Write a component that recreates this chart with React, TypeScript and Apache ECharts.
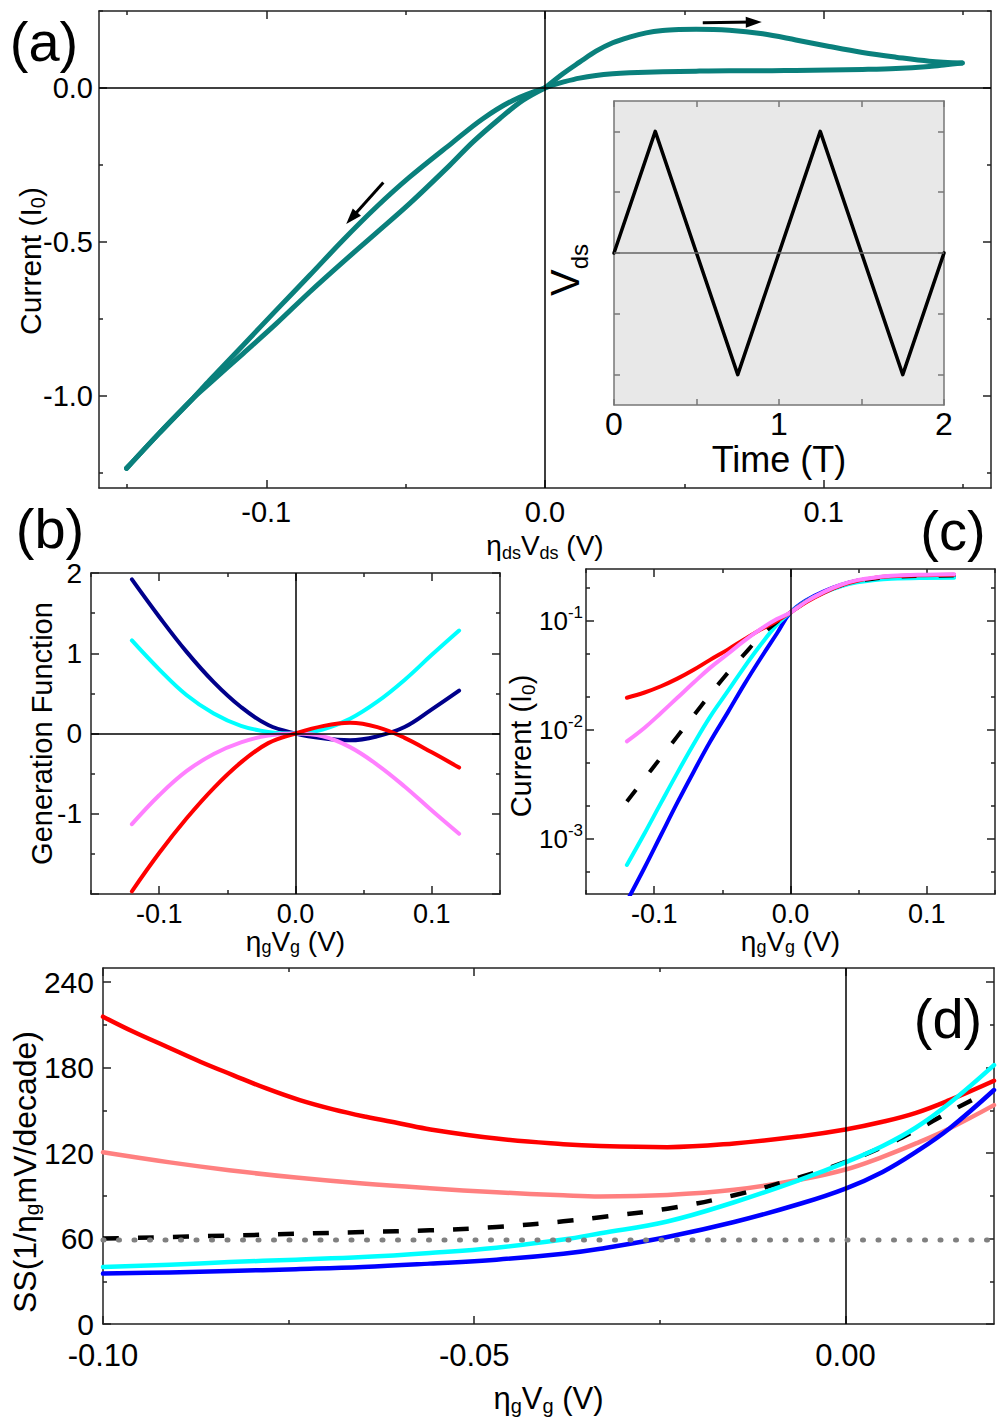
import React, { useEffect, useRef } from 'react';
import * as echarts from 'echarts';

const FONT = '"Liberation Sans", Arial, Helvetica, sans-serif';

// ---------- (a) hysteresis loop, four sweep branches: eta_ds*V_ds (V) vs current (I0) ----------
const fwdPosV = [0, 0.0064, 0.0124, 0.0183, 0.0243, 0.0303, 0.0363, 0.0422, 0.0482, 0.0542, 0.0661, 0.0781, 0.09, 0.102, 0.1139, 0.1259, 0.1378, 0.1497];
const fwdPosI = [0, 0.046, 0.0838, 0.1195, 0.1467, 0.165, 0.179, 0.1867, 0.19, 0.191, 0.1877, 0.176, 0.156, 0.1347, 0.1153, 0.1, 0.087, 0.081];
const retPosV = [0.1497, 0.1438, 0.1378, 0.1259, 0.1139, 0.102, 0.09, 0.0781, 0.0661, 0.0542, 0.0422, 0.0303, 0.0243, 0.0183, 0.0124, 0.0064, 0.003, 0];
const retPosI = [0.081, 0.0752, 0.0698, 0.0633, 0.06, 0.0579, 0.0568, 0.0557, 0.0557, 0.0546, 0.0525, 0.049, 0.046, 0.0406, 0.0319, 0.019, 0.0103, 0];
const fwdNegV = [0, -0.0115, -0.0223, -0.033, -0.0486, -0.0605, -0.0725, -0.0844, -0.0964, -0.1083, -0.1203, -0.1263, -0.1382, -0.1501];
const fwdNegI = [0, -0.0406, -0.1, -0.176, -0.29, -0.387, -0.495, -0.609, -0.722, -0.836, -0.95, -1.009, -1.12, -1.236];
const retNegV = [-0.1501, -0.1382, -0.1263, -0.1203, -0.1083, -0.0964, -0.0844, -0.0725, -0.0605, -0.0486, -0.0342, -0.0259, -0.0163, -0.008, 0];
const retNegI = [-1.236, -1.12, -1.009, -0.96, -0.863, -0.766, -0.663, -0.566, -0.471, -0.376, -0.2516, -0.176, -0.1, -0.0406, 0];
const arrowRight = [[0.0566, 0.212], [0.0749, 0.214]];
const arrowLeft = [[-0.058, -0.307], [-0.0694, -0.423]];

// ---------- (a) inset: triangular V_ds(t) ----------
const insetT = [0, 0.25, 0.75, 1.25, 1.75, 2];
const insetV = [0, 1, -1, 1, -1, 0];

// ---------- (b) generation function ----------
const genX = [-0.12, -0.1, -0.08, -0.06, -0.04, -0.02, 0, 0.02, 0.04, 0.06, 0.08, 0.1, 0.12];
const genNavy = [1.92, 1.455, 1.02, 0.64, 0.33, 0.105, 0, -0.06, -0.085, -0.035, 0.08, 0.3, 0.533];
const genCyan = [1.16, 0.8, 0.48, 0.25, 0.096, 0.02, 0, 0.05, 0.183, 0.396, 0.667, 0.98, 1.283];
const genViolet = [-1.13, -0.77, -0.47, -0.255, -0.11, -0.025, 0, -0.035, -0.17, -0.39, -0.66, -0.96, -1.25];
const genRed = [-1.967, -1.49, -1.06, -0.68, -0.36, -0.12, 0, 0.092, 0.133, 0.079, -0.054, -0.235, -0.425];

// ---------- (c) current, log scale ----------
const curX = [-0.12, -0.107, -0.095, -0.083, -0.071, -0.059, -0.046, -0.034, -0.022, -0.01, 0, 0.012, 0.025, 0.037, 0.049, 0.062, 0.074, 0.098, 0.12];
const curRed = [0.0197, 0.022, 0.0251, 0.0295, 0.0356, 0.0439, 0.0545, 0.0676, 0.0832, 0.1, 0.1195, 0.15, 0.183, 0.212, 0.234, 0.249, 0.257, 0.263, 0.265];
const curViolet = [0.00783, 0.01045, 0.01426, 0.01968, 0.02716, 0.03707, 0.04977, 0.06561, 0.08414, 0.104, 0.1195, 0.152, 0.186, 0.215, 0.237, 0.251, 0.26, 0.266, 0.268];
const curCyan = [0.000573, 0.00112, 0.00213, 0.00402, 0.0074, 0.01315, 0.0226, 0.0375, 0.0601, 0.092, 0.1195, 0.153, 0.183, 0.208, 0.226, 0.238, 0.244, 0.248, 0.249];
const curBlue = [0.000266, 0.000543, 0.00108, 0.00214, 0.00412, 0.00776, 0.01445, 0.026, 0.0452, 0.0767, 0.1195, 0.156, 0.188, 0.214, 0.234, 0.246, 0.253, 0.258, 0.26];
const curDashX = [-0.12, -0.102, -0.083, -0.066, -0.049, -0.034, -0.022, -0.01, 0, 0.012, 0.025, 0.037, 0.049, 0.062, 0.074, 0.098, 0.12];
const curDash = [0.00219, 0.0043, 0.0087, 0.0163, 0.0301, 0.0493, 0.072, 0.098, 0.1195, 0.152, 0.185, 0.212, 0.232, 0.245, 0.253, 0.259, 0.261];

// ---------- (d) subthreshold swing ----------
const ssX = [-0.1, -0.091, -0.083, -0.074, -0.065, -0.056, -0.047, -0.038, -0.033, -0.024, -0.015, -0.006, 0, 0.005, 0.0095, 0.014, 0.02];
const ssRedX = [-0.1, -0.0959, -0.0914, -0.0869, -0.0825, -0.078, -0.0735, -0.069, -0.0646, -0.06, -0.0559, -0.047, -0.038, -0.033, -0.024, -0.015, -0.006, 0, 0.005, 0.0095, 0.014, 0.02];
const ssRed = [215.8, 205.2, 194.7, 184.2, 174.8, 165.4, 157.2, 150.7, 145.5, 140.8, 136.6, 130.2, 126.3, 125, 124.2, 126.8, 131.9, 136.6, 142, 148.3, 157.2, 170.8];
const ssSalmon = [120.6, 113.5, 108, 102.8, 98.6, 95.3, 92.5, 90.4, 89.6, 90.6, 94.2, 101.5, 108.5, 117.4, 126.8, 137.3, 153.7];
const ssCyan = [40, 41.6, 43.5, 45.2, 47, 49.9, 53.6, 59.3, 63.7, 72, 85.5, 101.5, 113.5, 125, 138, 155, 181.8];
const ssBlue = [35.4, 36.2, 37.2, 38.5, 40, 42.4, 45.2, 49.4, 52.9, 61.1, 71.6, 84.6, 95.1, 106.8, 120.9, 137.3, 164.3];
const ssDashX = [-0.1, -0.083, -0.065, -0.056, -0.047, -0.038, -0.033, -0.024, -0.015, -0.006, 0, 0.005, 0.0095, 0.014, 0.017];
const ssDash = [60, 62.1, 64.6, 65.8, 68.1, 72.1, 75, 81, 90.4, 103.3, 113.8, 124.4, 136.1, 149, 157.2];
const ssLimitX = [-0.1, 0.02];
const ssLimit = [59, 59];

// ---------- tick / label values ----------
const aXMajor = [-0.1, 0, 0.1];
const aXMinor = [-0.15, -0.05, 0.05, 0.15];
const aYMajor = [-1, -0.5, 0];
const aYMinor = [-1.25, -0.75, -0.25, 0.25];
const insXTicks = [0, 0.5, 1, 1.5, 2];
const insXLabels = [0, 1, 2];
const insYTicks = [-1, -0.5, 0, 0.5, 1];
const bcXMajor = [-0.1, 0, 0.1];
const bcXMinor = [-0.15, -0.05, 0.05, 0.15];
const bYMajor = [-2, -1, 0, 1, 2];
const bYMinor = [-1.5, -0.5, 0.5, 1.5];
const bYLabels = [-1, 0, 1, 2];
const cYMajor = [0.001, 0.01, 0.1];
const cYMinor = [0.0005, 0.002, 0.005, 0.02, 0.05, 0.2];
const dXMajor = [-0.1, -0.05, 0];
const dXMinor = [-0.075, -0.025];
const dYMajor = [0, 60, 120, 180, 240];
const dYMinor = [30, 90, 150, 210];

const zip = (xs: number[], ys: number[]) => xs.map((x, i) => [x, ys[i]]);

type AxisCfg = {
  grid: number;
  type?: 'value' | 'log';
  min: number;
  max: number;
  majors: number[];
  minors: number[];
  labels: number[];
  fmt?: (v: number) => string;
  fontSize: number;
  labelLH?: number;
  margin: number;
  name?: string;
  nameGap?: number;
  nameRich?: any;
  namePadding?: number[];
  labelRich?: any;
  color?: string;
  lineWidth?: number;
  majorLen?: number;
  minorLen?: number;
};

function buildAxes(dim: 'x' | 'y', c: AxisCfg, list: any[]): number {
  const color = c.color ?? '#222';
  const lw = c.lineWidth ?? 1.5;
  const pos = dim === 'x' ? ['bottom', 'top'] : ['left', 'right'];
  const base: any = {
    type: c.type ?? 'value',
    gridIndex: c.grid,
    min: c.min,
    max: c.max,
    splitLine: { show: false },
    minorTick: { show: false },
    minorSplitLine: { show: false },
    axisPointer: { show: false },
  };
  const mainIndex = list.length;
  pos.forEach((p, k) => {
    const ax: any = {
      ...base,
      position: p,
      axisLine: { show: true, onZero: false, lineStyle: { color, width: lw } },
      axisTick: { show: true, inside: true, length: c.majorLen ?? 8, customValues: c.majors, lineStyle: { color, width: lw } },
      axisLabel:
        k === 0
          ? {
              show: true,
              customValues: c.labels,
              formatter: c.fmt,
              fontSize: c.fontSize,
              lineHeight: c.labelLH,
              fontFamily: FONT,
              color: '#000',
              margin: c.margin,
              rich: c.labelRich,
            }
          : { show: false },
    };
    if (k === 0 && c.name) {
      ax.name = c.name;
      ax.nameLocation = 'middle';
      ax.nameGap = c.nameGap;
      ax.nameMoveOverlap = false;
      ax.nameTextStyle = { fontFamily: FONT, color: '#000', rich: c.nameRich, padding: c.namePadding ?? 0 };
    }
    list.push(ax);
    if (c.minors.length) {
      list.push({
        ...base,
        position: p,
        axisLine: { show: false, onZero: false },
        axisTick: { show: true, inside: true, length: c.minorLen ?? 4, customValues: c.minors, lineStyle: { color, width: lw } },
        axisLabel: { show: false },
      });
    }
  });
  return mainIndex;
}

const subRich = (main: number, sub: number, lh: number, subLh?: number) => ({
  t: { fontSize: main, fontFamily: FONT, color: '#000', lineHeight: lh },
  s: { fontSize: sub, fontFamily: FONT, color: '#000', lineHeight: subLh ?? sub, verticalAlign: 'bottom' },
});

function buildOption() {
  const xAxes: any[] = [];
  const yAxes: any[] = [];
  const f1 = (v: number) => v.toFixed(1);
  const f2 = (v: number) => v.toFixed(2);
  const f0 = (v: number) => String(v);

  // (a)
  const ax = buildAxes('x', {
    grid: 0, min: -0.16, max: 0.16, majors: aXMajor, minors: aXMinor, labels: aXMajor, fmt: f1,
    fontSize: 29, margin: 9, name: '{t|η}{s|ds}{t|V}{s|ds}{t| (V)}', nameGap: 40, nameRich: subRich(28, 18, 34),
  }, xAxes);
  const ay = buildAxes('y', {
    grid: 0, min: -1.3, max: 0.25, majors: aYMajor, minors: aYMinor, labels: aYMajor, fmt: f1,
    fontSize: 29, margin: 6, name: '{t|Current (I}{s|0}{t|)}', nameGap: 51, nameRich: subRich(30, 20, 36),
    namePadding: [0, 23, 0, 0],
  }, yAxes);
  // inset
  const ix = buildAxes('x', {
    grid: 1, min: 0, max: 2, majors: insXTicks, minors: [], labels: insXLabels, fmt: f0,
    fontSize: 32, labelLH: 30, margin: 4, name: '{t|Time (T)}', nameGap: 38,
    nameRich: { t: { fontSize: 36, fontFamily: FONT, color: '#000', lineHeight: 32 } },
    color: '#777', lineWidth: 1.5, majorLen: 6,
  }, xAxes);
  const iy = buildAxes('y', {
    grid: 1, min: -1.25, max: 1.25, majors: insYTicks, minors: [], labels: [], fmt: f0,
    fontSize: 30, margin: 8, name: '{t|V}{s|ds}', nameGap: 23, nameRich: subRich(40, 24, 52, 24),
    namePadding: [0, 34, 0, 0],
    color: '#777', lineWidth: 1.5, majorLen: 6,
  }, yAxes);
  // (b)
  const bx = buildAxes('x', {
    grid: 2, min: -0.15, max: 0.15, majors: bcXMajor, minors: bcXMinor, labels: bcXMajor, fmt: f1,
    fontSize: 27, labelLH: 24, margin: 8, name: '{t|η}{s|g}{t|V}{s|g}{t| (V)}', nameGap: 32, nameRich: subRich(28, 18, 30),
  }, xAxes);
  const by = buildAxes('y', {
    grid: 2, min: -2, max: 2, majors: bYMajor, minors: bYMinor, labels: bYLabels, fmt: f0,
    fontSize: 28, margin: 9, name: '{t|Generation Function}', nameGap: 35,
    nameRich: { t: { fontSize: 29, fontFamily: FONT, color: '#000', lineHeight: 29 } },
  }, yAxes);
  // (c)
  const cx = buildAxes('x', {
    grid: 3, min: -0.15, max: 0.15, majors: bcXMajor, minors: bcXMinor, labels: bcXMajor, fmt: f1,
    fontSize: 27, labelLH: 24, margin: 8, name: '{t|η}{s|g}{t|V}{s|g}{t| (V)}', nameGap: 32, nameRich: subRich(28, 18, 30),
  }, xAxes);
  const cy = buildAxes('y', {
    grid: 3, type: 'log', min: 0.00031, max: 0.3, majors: cYMajor, minors: cYMinor, labels: cYMajor,
    fmt: (v: number) => `{b|10}{e|${Math.round(Math.log10(v))}}`,
    labelRich: {
      b: { fontSize: 26, fontFamily: FONT, color: '#000', lineHeight: 34 },
      e: { fontSize: 17, fontFamily: FONT, color: '#000', lineHeight: 17, verticalAlign: 'top' },
    },
    fontSize: 26, margin: 3, name: '{t|Current (I}{s|0}{t|)}', nameGap: 48, nameRich: subRich(29, 19, 34),
    namePadding: [0, 29, 0, 0],
  }, yAxes);
  // (d)
  const dx = buildAxes('x', {
    grid: 4, min: -0.1, max: 0.02, majors: dXMajor, minors: dXMinor, labels: dXMajor, fmt: f2,
    fontSize: 31, labelLH: 24, margin: 19, name: '{t|η}{s|g}{t|V}{s|g}{t| (V)}', nameGap: 56, nameRich: subRich(31, 20, 36),
  }, xAxes);
  const dy = buildAxes('y', {
    grid: 4, min: 0, max: 250, majors: dYMajor, minors: dYMinor, labels: dYMajor, fmt: f0,
    fontSize: 30, labelLH: 22, margin: 9, name: '{t|SS(1/η}{s|g}{t|mV/decade)}', nameGap: 61, nameRich: subRich(32, 21, 34),
    namePadding: [0, 52, 0, 0],
  }, yAxes);

  const ln = (xs: number[], ys: number[], xi: number, yi: number, color: string, width: number, extra: any = {}) => ({
    type: 'line',
    xAxisIndex: xi,
    yAxisIndex: yi,
    data: zip(xs, ys),
    showSymbol: false,
    symbol: 'none',
    smooth: extra.smooth ?? 0.4,
    silent: true,
    lineStyle: { color, width, cap: 'round', join: 'round', ...(extra.lineStyle || {}) },
    z: extra.z ?? 3,
    clip: true,
  });

  const refLines = (xi: number, yi: number, data: any[], color = '#000', width = 1.5) => ({
    type: 'line',
    xAxisIndex: xi,
    yAxisIndex: yi,
    data: [],
    silent: true,
    z: 1,
    markLine: {
      silent: true,
      symbol: ['none', 'none'],
      label: { show: false },
      lineStyle: { color, width, type: 'solid' },
      animation: false,
      data,
    },
  });

  const arrow = (pts: number[][]) => [{ coord: pts[0] }, { coord: pts[1] }];
  const TEAL = '#0a807c';
  const loopExtra = { smooth: 0.35 };

  const series: any[] = [
    // (a)
    refLines(ax, ay, [{ xAxis: 0 }, { yAxis: 0 }]),
    ln(fwdPosV, fwdPosI, ax, ay, TEAL, 5, loopExtra),
    ln(retPosV, retPosI, ax, ay, TEAL, 5, loopExtra),
    ln(fwdNegV, fwdNegI, ax, ay, TEAL, 5, loopExtra),
    ln(retNegV, retNegI, ax, ay, TEAL, 5, loopExtra),
    {
      type: 'line', xAxisIndex: ax, yAxisIndex: ay, data: [], silent: true, z: 5,
      markLine: {
        silent: true,
        symbol: ['none', 'triangle'],
        symbolSize: [11, 16],
        label: { show: false },
        lineStyle: { color: '#000', width: 3, type: 'solid' },
        itemStyle: { color: '#000' },
        animation: false,
        data: [arrow(arrowRight), arrow(arrowLeft)],
      },
    },
    // inset
    refLines(ix, iy, [{ yAxis: 0 }], '#666', 1.5),
    ln(insetT, insetV, ix, iy, '#000', 3.5, { smooth: false }),
    // (b)
    refLines(bx, by, [{ xAxis: 0 }, { yAxis: 0 }]),
    ln(genX, genNavy, bx, by, '#00008b', 4),
    ln(genX, genCyan, bx, by, '#00ffff', 4),
    ln(genX, genViolet, bx, by, '#ff80ff', 4),
    ln(genX, genRed, bx, by, '#ff0000', 4),
    // (c)
    refLines(cx, cy, [{ xAxis: 0 }]),
    ln(curX, curBlue, cx, cy, '#0000ff', 4),
    ln(curX, curCyan, cx, cy, '#00ffff', 4),
    ln(curDashX, curDash, cx, cy, '#000', 4, { lineStyle: { type: [15, 22], cap: 'butt' } }),
    ln(curX, curRed, cx, cy, '#ff0000', 4),
    ln(curX, curViolet, cx, cy, '#ff80ff', 4),
    // (d)
    refLines(dx, dy, [{ xAxis: 0 }]),
    ln(ssX, ssSalmon, dx, dy, '#ff8080', 4.5),
    ln(ssRedX, ssRed, dx, dy, '#ff0000', 4.5),
    ln(ssDashX, ssDash, dx, dy, '#000', 4.5, { lineStyle: { type: [16, 19], cap: 'butt' } }),
    ln(ssX, ssBlue, dx, dy, '#0000ff', 4.5),
    ln(ssX, ssCyan, dx, dy, '#00ffff', 4.5),
    ln(ssLimitX, ssLimit, dx, dy, '#808080', 5, { smooth: false, z: 6, lineStyle: { type: [1, 14.5], cap: 'round' } }),
  ];

  const grid = (left: number, top: number, width: number, height: number, extra: any = {}) => ({
    left, top, width, height, containLabel: false, outerBoundsMode: 'none', ...extra,
  });

  const label = (text: string, x: number, y: number) => ({
    type: 'text',
    x,
    y,
    silent: true,
    style: { text, fontSize: 56, fontFamily: FONT, fill: '#000', align: 'center', verticalAlign: 'middle' },
  });

  return {
    animation: false,
    backgroundColor: '#fff',
    grid: [
      grid(99, 11, 892, 477),
      grid(614, 101, 330, 304, { show: true, backgroundColor: '#e8e8e8', borderWidth: 0 }),
      grid(91, 573, 409, 321),
      grid(586, 569, 409, 325),
      grid(103, 968, 891, 356),
    ],
    xAxis: xAxes,
    yAxis: yAxes,
    series,
    graphic: [label('(a)', 44, 41), label('(b)', 50, 528), label('(c)', 953, 530), label('(d)', 948, 1018)],
  };
}

export default function App() {
  const ref = useRef<HTMLDivElement>(null);
  useEffect(() => {
    if (!ref.current) return;
    const chart = echarts.init(ref.current, undefined, { renderer: 'svg' });
    chart.setOption(buildOption() as any);
    return () => chart.dispose();
  }, []);
  return (
    <div
      ref={ref}
      style={{ position: 'absolute', left: 0, top: 0, width: 997, height: 1426, background: '#fff' }}
    />
  );
}
